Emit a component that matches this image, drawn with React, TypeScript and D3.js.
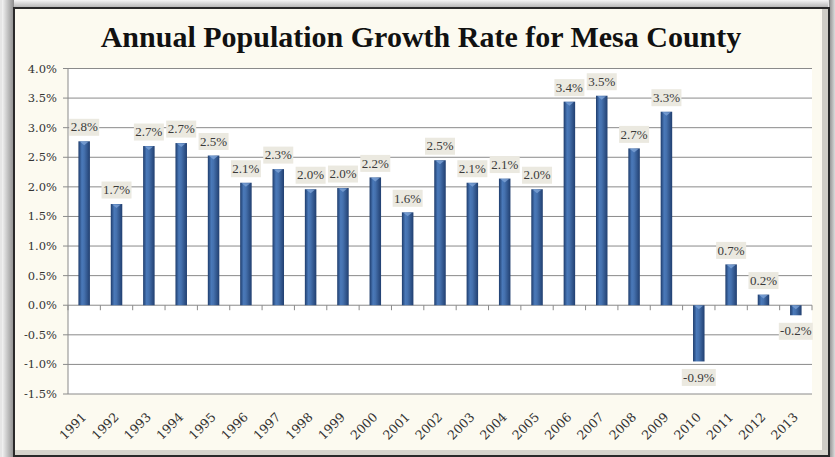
import React from "react";
import * as d3 from "d3";

const years = ["1991","1992","1993","1994","1995","1996","1997","1998","1999","2000","2001","2002","2003","2004","2005","2006","2007","2008","2009","2010","2011","2012","2013"];
const growth = [2.77,1.71,2.69,2.74,2.53,2.07,2.30,1.96,1.98,2.16,1.57,2.45,2.07,2.14,1.96,3.44,3.54,2.65,3.27,-0.95,0.69,0.18,-0.17];
const labels = ["2.8%","1.7%","2.7%","2.7%","2.5%","2.1%","2.3%","2.0%","2.0%","2.2%","1.6%","2.5%","2.1%","2.1%","2.0%","3.4%","3.5%","2.7%","3.3%","-0.9%","0.7%","0.2%","-0.2%"];
const yTicks = [-1.5,-1,-0.5,0,0.5,1,1.5,2,2.5,3,3.5,4];
const title = "Annual Population Growth Rate for Mesa County";

const W = 835, H = 457;
const plot = { left: 68, right: 812, top: 68.5, bottom: 394 };

export default function App() {
  const x = d3.scaleBand<string>().domain(years).range([plot.left, plot.right]).paddingInner(0).paddingOuter(0);
  const y = d3.scaleLinear().domain([-1.5, 4]).range([plot.bottom, plot.top]);
  const bw = 11.5;
  const fmt = (v: number) => v.toFixed(1) + "%";
  const serif = "'Liberation Serif', 'DejaVu Serif', serif";
  const dserif = "'DejaVu Serif', serif";
  return (
    <div style={{ position: "absolute", left: 0, top: 0, width: W, height: H, background: "#fff" }}>
      <svg width={W} height={H} style={{ display: "block" }}>
        <defs>
          <linearGradient id="bar" x1="0" x2="1" y1="0" y2="0">
            <stop offset="0" stopColor="#1e3c6c" />
            <stop offset="0.3" stopColor="#4a79b9" />
            <stop offset="0.5" stopColor="#4571ae" />
            <stop offset="1" stopColor="#213f70" />
          </linearGradient>
          <linearGradient id="shL" x1="0" x2="1" y1="0" y2="0">
            <stop offset="0" stopColor="#f4f4f4" />
            <stop offset="1" stopColor="#8c8c8c" />
          </linearGradient>
          <linearGradient id="shT" x1="0" x2="0" y1="0" y2="1">
            <stop offset="0" stopColor="#f6f6f6" />
            <stop offset="1" stopColor="#b0b0b0" />
          </linearGradient>
          <linearGradient id="shR" x1="0" x2="1" y1="0" y2="0">
            <stop offset="0" stopColor="#8a8a8a" />
            <stop offset="1" stopColor="#dcdcdc" />
          </linearGradient>
        </defs>
        {/* outer shadow */}
        <rect x={0} y={0} width={W} height={H} fill="#e6e6e6" />
        <rect x={2} y={0} width={12} height={H} fill="url(#shL)" />
        <rect x={14} y={0} width={814} height={8} fill="url(#shT)" />
        <rect x={829} y={0} width={6} height={H} fill="url(#shR)" />
        {/* frame */}
        <rect x={14} y={8} width={815} height={448} fill="#fcfaf0" stroke="#2a2a2a" strokeWidth={2} />
        <rect x={822} y={9} width={6} height={446} fill="#cfcdc6" />
        <rect x={15} y={450} width={813} height={5} fill="#d6d4cc" />
        {/* title */}
        <text x={421} y={47} textAnchor="middle" fontFamily={serif} fontWeight="bold" fontSize={30} fill="#111">{title}</text>
        {/* plot area */}
        <rect x={plot.left} y={plot.top} width={plot.right - plot.left} height={plot.bottom - plot.top} fill="#fff" />
        {yTicks.map((t) => (
          <g key={t}>
            <line x1={plot.left - 5} x2={plot.right} y1={y(t)} y2={y(t)} stroke="#8a8a8a" strokeWidth={1} />
            <text x={57} y={y(t) + 4} textAnchor="end" fontFamily={dserif} fontSize={11.5} fill="#333">{fmt(t)}</text>
          </g>
        ))}
        <line x1={plot.left} x2={plot.left} y1={plot.top} y2={plot.bottom} stroke="#8a8a8a" />
        {years.map((yr) => (
          <line key={"t" + yr} x1={(x(yr) as number)} x2={(x(yr) as number)} y1={y(0)} y2={y(0) + 5} stroke="#8a8a8a" />
        ))}
        <line x1={plot.right} x2={plot.right} y1={y(0)} y2={y(0) + 5} stroke="#8a8a8a" />
        {/* bars */}
        {years.map((yr, i) => {
          const v = growth[i];
          const cx = (x(yr) as number) + x.bandwidth() / 2;
          const y0 = y(Math.max(0, v));
          const y1 = y(Math.min(0, v));
          return (
            <g key={yr}>
              <rect x={cx - bw / 2} y={y0} width={bw} height={y1 - y0} fill="url(#bar)" />
              <path d={`M${cx - bw / 2 + 1.5},${y0 + 0.5} L${cx + bw / 2 - 1.5},${y0 + 0.5} L${cx},${y0 + 4}Z`} fill="#7da3d6" opacity={0.8} />
            </g>
          );
        })}
        {/* data labels */}
        {years.map((yr, i) => {
          const v = growth[i];
          const cx = (x(yr) as number) + x.bandwidth() / 2;
          const cy = v >= 0 ? y(v) - 14 : y(v) + 16;
          const w = labels[i].length > 4 ? 34 : 30;
          return (
            <g key={"l" + yr}>
              <rect x={cx - w / 2} y={cy - 8.5} width={w} height={17} fill="#ebe9e0" />
              <text x={cx} y={cy + 4.2} textAnchor="middle" fontFamily={serif} fontSize={13} fill="#3a3a3a">{labels[i]}</text>
            </g>
          );
        })}
        {/* x labels */}
        {years.map((yr) => {
          const cx = (x(yr) as number) + x.bandwidth() / 2;
          return (
            <text key={"x" + yr} transform={`translate(${cx + 3},${418}) rotate(-45)`} textAnchor="end" fontFamily={dserif} fontSize={12.5} fill="#333">{yr}</text>
          );
        })}
      </svg>
    </div>
  );
}
